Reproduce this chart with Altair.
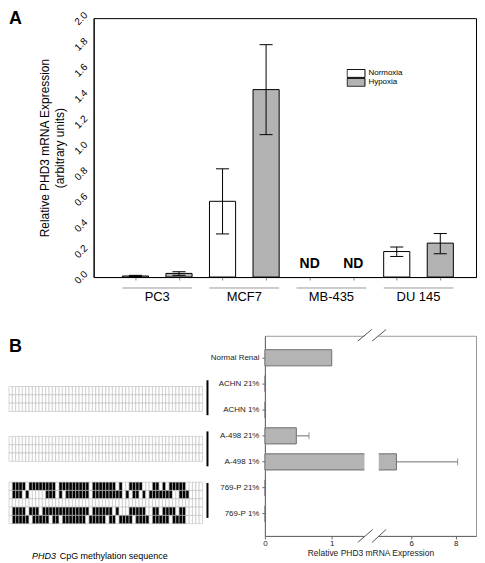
import altair as alt
import pandas as pd

FONT = "Liberation Sans"

# ---------------- Panel A data ----------------
a_lines = ["PC3", "MCF7", "MB-435", "DU 145"]
a_conditions = ["Normoxia", "Hypoxia"]
a_mean = [0.008, 0.028, 0.585, 1.448, None, None, 0.197, 0.262]
a_low = [0.004, 0.013, 0.333, 1.100, None, None, 0.159, 0.180]
a_high = [0.013, 0.041, 0.836, 1.795, None, None, 0.232, 0.336]
a_yticks = [0.0, 0.2, 0.4, 0.6, 0.8, 1.0, 1.2, 1.4, 1.6, 1.8, 2.0]

# ---------------- Panel B data ----------------
b_samples = ["Normal Renal", "ACHN 21%", "ACHN 1%", "A-498 21%", "A-498 1%", "769-P 21%", "769-P 1%"]
b_mean = [1.0, 0.01, 0.01, 0.47, 5.33, 0.01, 0.01]
b_err_high = [None, None, None, 0.66, 8.09, None, None]
b_break_domain = [0, 1.49, 4.53, 8.92]
b_xticks = [0, 1, 6, 8]

# methylation grid (runs of methylated CpGs, column index ranges inclusive)
meth_cols = 58
meth_blocks = ["ACHN", "A-498", "769-P"]
meth_block_start = [6.1, 12.1, 17.6]
meth_brackets = [(5.35, 9.55), (11.5, 15.7), (17.7, 21.9)]
meth_runs = {
    "ACHN": [[], [], []],
    "A-498": [[], [], []],
    "769-P": [
        [(1, 4), (6, 13), (15, 23), (25, 31), (33, 33), (36, 39), (43, 44), (46, 46), (48, 52)],
        [(1, 3), (5, 5), (11, 13), (15, 15), (17, 23), (25, 33), (35, 35), (37, 38), (40, 40), (42, 48), (51, 53)],
        [],
        [(1, 4), (6, 8), (10, 23), (25, 30), (32, 32), (36, 40), (43, 44), (46, 49), (51, 52)],
        [(1, 5), (7, 11), (13, 14), (16, 22), (24, 28), (30, 31), (33, 36), (38, 41), (43, 47), (49, 52)],
    ],
}

LEFT = 85  # distance from the figure's left edge to panel A's plot area

# ================= Panel A =================
rowsA = []
for i, line in enumerate(a_lines):
    for j, cond in enumerate(a_conditions):
        k = 2 * i + j
        rowsA.append(dict(line=line, cond=cond, pos=k + 1, mean=a_mean[k], low=a_low[k], high=a_high[k]))
dfA = pd.DataFrame(rowsA)
dfG = pd.DataFrame({"line": a_lines, "g": list(range(len(a_lines)))})

xA = alt.Scale(domain=[0.04, 8.82], nice=False, zero=False)
yA = alt.Scale(domain=[0, 2], nice=False)
axXA = alt.Axis(values=list(range(1, 9)), labels=False, title=None, tickSize=3, tickColor="#888888",
                domainColor="black", grid=False)
axYA = alt.Axis(values=a_yticks, format=".1f", labelAngle=315, labelAlign="center", labelBaseline="middle",
                ticks=False, labelPadding=13, labelFontSize=10, labelColor="black",
                title=["Relative PHD3 mRNA Expression", "(arbitrary units)"], titleFontSize=12,
                titleFontWeight="normal", titlePadding=6, titleLineHeight=15, titleColor="black",
                domainColor="black", grid=False)

baseA = alt.Chart(dfA)
barsA = baseA.transform_filter("isValid(datum.mean)").transform_calculate(
    x0="datum.pos - 0.3", x1="datum.pos + 0.3"
).mark_rect(stroke="black", strokeWidth=1).encode(
    x=alt.X("x0:Q", scale=xA, axis=axXA), x2="x1:Q",
    y=alt.Y("mean:Q", scale=yA, axis=axYA), y2=alt.datum(0),
    fill=alt.Fill("cond:N", scale=alt.Scale(domain=a_conditions, range=["white", "#b3b3b3"]),
                  legend=alt.Legend(title=None, orient="none", legendX=254, legendY=51,
                                    symbolType="M-1,-0.444H1V0.444H-1Z", symbolSize=324,
                                    symbolStrokeColor="black", symbolStrokeWidth=1,
                                    labelFontSize=8, labelColor="black", labelOffset=3,
                                    clipHeight=9, rowPadding=0, padding=0)),
)
errA = baseA.transform_filter("isValid(datum.mean)").mark_rule(color="black", strokeWidth=1).encode(
    x=alt.X("pos:Q", scale=xA, axis=axXA),
    y=alt.Y("low:Q", scale=yA, axis=axYA), y2="high:Q",
)
capsA = baseA.transform_filter("isValid(datum.mean)").transform_fold(
    ["low", "high"], as_=["which", "v"]
).transform_calculate(c0="datum.pos - 0.15", c1="datum.pos + 0.15").mark_rule(color="black", strokeWidth=1).encode(
    x=alt.X("c0:Q", scale=xA, axis=axXA), x2="c1:Q",
    y=alt.Y("v:Q", scale=yA, axis=axYA),
)
ndA = baseA.transform_filter("!isValid(datum.mean)").mark_text(
    text="ND", fontSize=14, fontWeight="bold", baseline="middle"
).encode(
    x=alt.X("pos:Q", scale=xA, axis=axXA),
    y=alt.Y(datum=0.1, scale=yA, axis=axYA),
)
baseG = alt.Chart(dfG).transform_calculate(
    c="2 * datum.g + 1.5", u0="2 * datum.g + 0.7", u1="2 * datum.g + 2.3"
)
underA = baseG.mark_rule(color="#9a9a9a", strokeWidth=1).encode(
    x=alt.X("u0:Q", scale=xA, axis=axXA), x2="u1:Q", y=alt.value(271)
)
labA = baseG.mark_text(fontSize=13, baseline="middle").encode(
    x=alt.X("c:Q", scale=xA, axis=axXA), y=alt.value(280), text="line:N"
)
letterA = alt.Chart(pd.DataFrame({"t": ["A"]})).mark_text(
    align="left", baseline="top", fontSize=18, fontWeight="bold"
).encode(x=alt.value(-LEFT), y=alt.value(-8), text="t:N")

panelA = alt.layer(barsA, errA, capsA, ndA, underA, labA, letterA).properties(
    width=384, height=260, view=alt.ViewBackground(stroke="black", strokeWidth=1)
)

# ================= Panel B: methylation grid =================
cells = []
for b, block in enumerate(meth_blocks):
    for r, runs in enumerate(meth_runs[block]):
        meth = set()
        for s, e in runs:
            meth.update(range(s, e + 1))
        for c in range(meth_cols):
            y0 = meth_block_start[b] + r
            cells.append(dict(c0=c, c1=c + 1, r0=y0, r1=y0 + 1, m=1 if c in meth else 0))
dfCells = pd.DataFrame(cells)
dfBr = pd.DataFrame({"block": meth_blocks,
                     "b0": [s for s, e in meth_brackets], "b1": [e for s, e in meth_brackets]})

# the grid panel starts at the figure's left edge (LEFT px left of panel A's plot)
xG = alt.Scale(domain=[0, 60], range=[-LEFT, 116], nice=False, zero=False)
yG = alt.Scale(domain=[0, 24.07], nice=False, zero=False, reverse=True)

gridCells = alt.Chart(dfCells).mark_rect(stroke="#bdbdbd", strokeWidth=0.6).encode(
    x=alt.X("c0:Q", scale=xG, axis=None), x2="c1:Q",
    y=alt.Y("r0:Q", scale=yG, axis=None), y2="r1:Q",
    fill=alt.condition("datum.m == 1", alt.value("black"), alt.value("white")),
)
brackets = alt.Chart(dfBr).mark_rule(color="black", strokeWidth=2).encode(
    x=alt.X(datum=59.5, scale=xG, axis=None),
    y=alt.Y("b0:Q", scale=yG, axis=None), y2="b1:Q",
)
cap1 = alt.Chart(pd.DataFrame({"t": ["PHD3"]})).mark_text(
    align="right", baseline="middle", fontSize=9, fontStyle="italic"
).encode(x=alt.X(datum=14.05, scale=xG, axis=None), y=alt.value(221), text="t:N")
cap2 = alt.Chart(pd.DataFrame({"t": ["CpG methylation sequence"]})).mark_text(
    align="left", baseline="middle", fontSize=9
).encode(x=alt.X(datum=15.2, scale=xG, axis=None), y=alt.value(221), text="t:N")
letterB = alt.Chart(pd.DataFrame({"t": ["B"]})).mark_text(
    align="left", baseline="top", fontSize=18, fontWeight="bold"
).encode(x=alt.value(-LEFT), y=alt.value(2), text="t:N")

grid = alt.layer(gridCells, brackets, cap1, cap2, letterB).properties(
    width=116, height=201, view=alt.ViewBackground(stroke="transparent")
)

# ================= Panel B: bar chart =================
dfB = pd.DataFrame({"sample": b_samples, "mean": b_mean, "hi": b_err_high})
xB = alt.Scale(domain=b_break_domain, range=[0, 100, 114.3, 212], nice=False, zero=False)
yB = alt.Scale(domain=b_samples, paddingInner=0.38, paddingOuter=0.535)
axXB = alt.Axis(values=b_xticks, format="d", labelFontSize=8, labelColor="#222222", tickSize=3,
                tickColor="#666666", domainColor="#666666", labelPadding=1, labelFlush=False,
                title="Relative PHD3 mRNA Expression", titleFontSize=8.5, titleFontWeight="normal",
                titlePadding=1, titleColor="#222222", grid=False)
axYB = alt.Axis(title=None, labelFontSize=8, labelColor="#222222", tickSize=3, tickColor="#666666",
                domainColor="#666666", labelPadding=3, grid=False)

baseB = alt.Chart(dfB)
barsB = baseB.mark_bar(fill="#b4b4b4", stroke="#6e6e6e", strokeWidth=1).encode(
    x=alt.X("mean:Q", scale=xB, axis=axXB),
    y=alt.Y("sample:N", scale=yB, axis=axYB, sort=b_samples),
)
errB = baseB.transform_filter("isValid(datum.hi)").mark_rule(color="#6e6e6e", strokeWidth=1).encode(
    x=alt.X("mean:Q", scale=xB, axis=axXB), x2="hi:Q",
    y=alt.Y("sample:N", scale=yB, axis=axYB, sort=b_samples),
)
capB = baseB.transform_filter("isValid(datum.hi)").mark_tick(color="#6e6e6e", size=7, thickness=1).encode(
    x=alt.X("hi:Q", scale=xB, axis=axXB),
    y=alt.Y("sample:N", scale=yB, axis=axYB, sort=b_samples),
)
gapB = alt.Chart(pd.DataFrame({"k": [0]})).mark_rect(fill="white").encode(
    x=alt.X(datum=b_break_domain[1], scale=xB, axis=axXB),
    x2=alt.X2(datum=b_break_domain[2]),
    y=alt.value(-7), y2=alt.value(209),
)
slash_layers = []
for (xa, ya, xb, yb) in [(93.3, 5.3, 107.3, -6.3), (107.7, 5.3, 121.7, -6.3),
                         (93.3, 207.5, 108.3, 194.5), (107.7, 207.5, 121.7, 194.5)]:
    slash_layers.append(
        alt.Chart(pd.DataFrame({"k": [0]})).mark_rule(color="#555555", strokeWidth=1).encode(
            x=alt.value(xa), y=alt.value(ya), x2=alt.value(xb), y2=alt.value(yb)
        )
    )

barB = alt.layer(barsB, errB, capB, gapB, *slash_layers).properties(
    width=212, height=201, view=alt.ViewBackground(stroke="#999999", strokeWidth=1)
)

rowB = alt.hconcat(grid, barB, spacing=56, bounds="flush")

chart = alt.vconcat(panelA, rowB, spacing=23).properties(padding=0).configure(font=FONT)

chart.save("out.html", embed_options={"renderer": "svg", "actions": False})
